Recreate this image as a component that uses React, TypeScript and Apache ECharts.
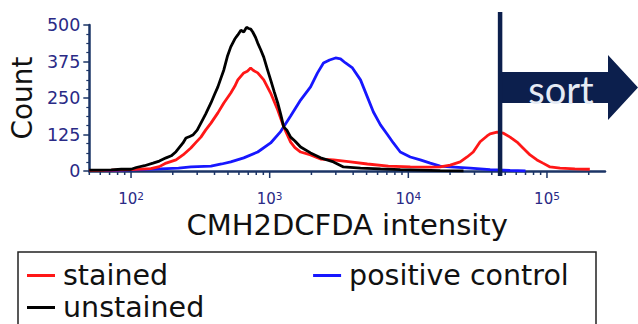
import React, { useEffect, useRef } from "react";
import * as echarts from "echarts";

// Flow cytometry histograms: [CMH2DCFDA intensity, event count]
const unstained: [number, number][] = [
  [50, 3], [72, 4], [85, 6], [100, 6], [109, 12], [125, 18], [144, 27], [160, 34],
  [179, 45], [195, 52], [211, 66], [237, 96], [249, 113], [265, 118], [279, 123], [300, 140],
  [319, 164], [345, 195], [377, 233], [400, 262], [423, 288], [445, 318], [467, 346], [495, 392],
  [524, 425], [560, 452], [589, 466], [620, 482], [650, 476], [680, 492], [706, 488],
  [730, 486], [755, 476], [790, 458], [820, 438], [860, 416], [906, 390], [960, 350],
  [1016, 312], [1080, 270], [1143, 233], [1200, 195], [1262, 151], [1330, 140],
  [1416, 116], [1520, 103], [1671, 82], [1972, 62], [2328, 45], [2884, 31], [3404, 14],
  [4519, 10], [6295, 7], [8750, 5], [12190, 3], [16980, 1], [25000, 0],
];

const stained: [number, number][] = [
  [50, 2], [72, 3], [100, 5], [139, 8], [160, 15], [179, 27], [211, 38], [237, 55],
  [270, 79], [294, 98], [319, 116], [345, 140], [377, 164], [423, 199], [467, 233],
  [524, 267], [560, 290], [589, 312], [650, 336], [690, 342], [729, 353], [760, 345],
  [820, 336], [906, 312], [1016, 267], [1143, 209], [1262, 151], [1416, 99], [1520, 80],
  [1671, 65], [1972, 55], [2328, 41], [2884, 38], [3828, 31], [5070, 24], [7178, 17],
  [10330, 14], [14390, 13], [16980, 14], [20040, 20], [23660, 31], [26550, 48],
  [29380, 65], [32960, 100], [36980, 120], [38900, 127], [43650, 133], [48190, 130],
  [54200, 116], [60810, 99], [67140, 79], [75510, 55], [84720, 38], [93540, 27],
  [105200, 14], [124200, 10], [158900, 7], [203700, 6],
];

const positiveControl: [number, number][] = [
  [64, 1], [100, 4], [164, 7], [220, 10], [270, 14], [377, 17], [450, 24], [524, 31],
  [650, 45], [820, 65], [1016, 96], [1199, 135], [1416, 188], [1671, 243], [1972, 288],
  [2213, 336], [2443, 370], [2704, 380], [2985, 387], [3243, 384], [3524, 370],
  [3954, 353], [4519, 312], [5070, 253], [5598, 202], [6295, 158], [7063, 125],
  [7798, 96], [8750, 65], [10330, 48], [12190, 38], [14390, 27], [16980, 17],
  [20040, 14], [27930, 10], [38900, 5], [54200, 2], [70000, 0],
];

const seriesNames = ["stained", "positive control", "unstained"];
const xRange = [50, 262144];
const yTicks = [0, 125, 250, 375, 500];
const decades = [10, 100, 1000, 10000, 100000];
const sortGate = 45900;

const AXIS = "#1b3466";
const LABEL = "#2a2a86";
const NAVY = "#0c1f4d";
const FONT = "DejaVu Sans";

// log-axis tick marks: major at each decade, minor at 2..9 × decade
const xTickMarks: [number, number, number][] = [];
decades.forEach((d) => {
  for (let m = 1; m <= 9; m++) {
    const v = d * m;
    if (v >= xRange[0] && v <= xRange[1]) xTickMarks.push([v, 0, m === 1 ? 1 : 0]);
  }
});

export default function App() {
  const ref = useRef<HTMLDivElement>(null);

  useEffect(() => {
    if (!ref.current) return;
    const chart = echarts.init(ref.current, null, { renderer: "svg" });
    const legendText = { fontSize: 28.5, color: "#111", fontFamily: FONT, padding: [0, 0, 0, 3] };
    chart.setOption({
      animation: false,
      backgroundColor: "#ffffff",
      textStyle: { fontFamily: FONT },
      grid: { left: 88, right: 33, top: 25, bottom: 153 },
      legend: [
        {
          data: [seriesNames[0], seriesNames[1]],
          left: 27,
          top: 261,
          padding: 0,
          itemGap: 145,
          itemWidth: 28,
          itemHeight: 3,
          icon: "rect",
          selectedMode: false,
          textStyle: legendText,
        },
        {
          data: [seriesNames[2]],
          left: 27,
          top: 293,
          padding: 0,
          itemWidth: 28,
          itemHeight: 3,
          icon: "rect",
          selectedMode: false,
          textStyle: legendText,
        },
      ],
      xAxis: {
        type: "log",
        logBase: 10,
        min: xRange[0],
        max: xRange[1],
        name: "CMH2DCFDA intensity",
        nameLocation: "middle",
        nameGap: 39,
        nameTextStyle: { fontSize: 29, color: "#111", fontFamily: FONT, lineHeight: 30 },
        axisLine: { lineStyle: { color: AXIS, width: 2.5 } },
        axisTick: { show: false },
        splitLine: { show: false },
        axisLabel: {
          margin: 19,
          showMinLabel: false,
          showMaxLabel: false,
          formatter: (v: number) => {
            const lg = Math.log10(v);
            const e = Math.round(lg);
            if (Math.abs(lg - e) > 1e-6) return "";
            return `{b|10}{s|${e}}`;
          },
          rich: {
            b: { fontSize: 15, color: LABEL, lineHeight: 16, verticalAlign: "bottom", fontFamily: FONT },
            s: { fontSize: 10.5, color: LABEL, lineHeight: 6, verticalAlign: "top", fontFamily: FONT },
          },
        },
      },
      yAxis: {
        type: "value",
        min: yTicks[0],
        max: yTicks[yTicks.length - 1],
        interval: yTicks[1] - yTicks[0],
        name: "Count",
        nameLocation: "middle",
        nameRotate: 90,
        nameGap: 53,
        nameTextStyle: { fontSize: 28, color: "#111", fontFamily: FONT },
        axisLine: { show: true, lineStyle: { color: AXIS, width: 2.5 } },
        axisTick: { show: true, length: 6, lineStyle: { color: AXIS, width: 1.5 } },
        minorTick: { show: true, splitNumber: 4, length: 3, lineStyle: { color: AXIS, width: 1.2 } },
        splitLine: { show: false },
        axisLabel: { fontSize: 17.5, color: LABEL, margin: 9, fontFamily: FONT },
      },
      series: [
        {
          type: "custom",
          coordinateSystem: "cartesian2d",
          silent: true,
          clip: false,
          data: xTickMarks,
          renderItem: (_p: any, api: any) => {
            const pt = api.coord([api.value(0), 0]);
            const len = api.value(2) ? 7 : 4;
            return {
              type: "line",
              shape: { x1: pt[0], y1: pt[1], x2: pt[0], y2: pt[1] + len },
              style: { stroke: AXIS, lineWidth: 1.5 },
            };
          },
        },
        {
          name: seriesNames[1],
          type: "line",
          data: positiveControl,
          showSymbol: false,
          color: "#1717ff",
          lineStyle: { width: 2.8, color: "#1717ff" },
        },
        {
          name: seriesNames[0],
          type: "line",
          data: stained,
          showSymbol: false,
          color: "#ff1717",
          lineStyle: { width: 2.8, color: "#ff1717" },
        },
        {
          name: seriesNames[2],
          type: "line",
          data: unstained,
          showSymbol: false,
          color: "#000000",
          lineStyle: { width: 2.8, color: "#000000" },
        },
      ],
    });

    // sort gate: vertical bar at the gate value with an arrow to the right
    const gx = chart.convertToPixel({ xAxisIndex: 0 }, sortGate) as number;
    chart.setOption({
      graphic: [
        {
          type: "rect",
          shape: { x: 18, y: 252, width: 578, height: 100 },
          style: { fill: "none", stroke: "#222", lineWidth: 1.5 },
          z: 10,
        },
        {
          type: "polygon",
          shape: {
            points: [
              [gx, 72], [608, 72], [608, 55], [638, 87.5], [608, 120], [608, 103], [gx, 103],
            ],
          },
          style: { fill: NAVY },
          z: 10,
        },
        {
          type: "line",
          shape: { x1: gx, y1: 12, x2: gx, y2: 176 },
          style: { stroke: NAVY, lineWidth: 4.5 },
          z: 11,
        },
        {
          type: "text",
          x: 561,
          y: 89,
          style: {
            text: "sort",
            fill: "#e6ecf5",
            font: "38px Lato",
            align: "center",
            verticalAlign: "middle",
          },
          z: 12,
        },
      ],
    });

    return () => chart.dispose();
  }, []);

  return (
    <div
      ref={ref}
      style={{ position: "absolute", left: 0, top: 0, width: 638, height: 324 }}
    />
  );
}
